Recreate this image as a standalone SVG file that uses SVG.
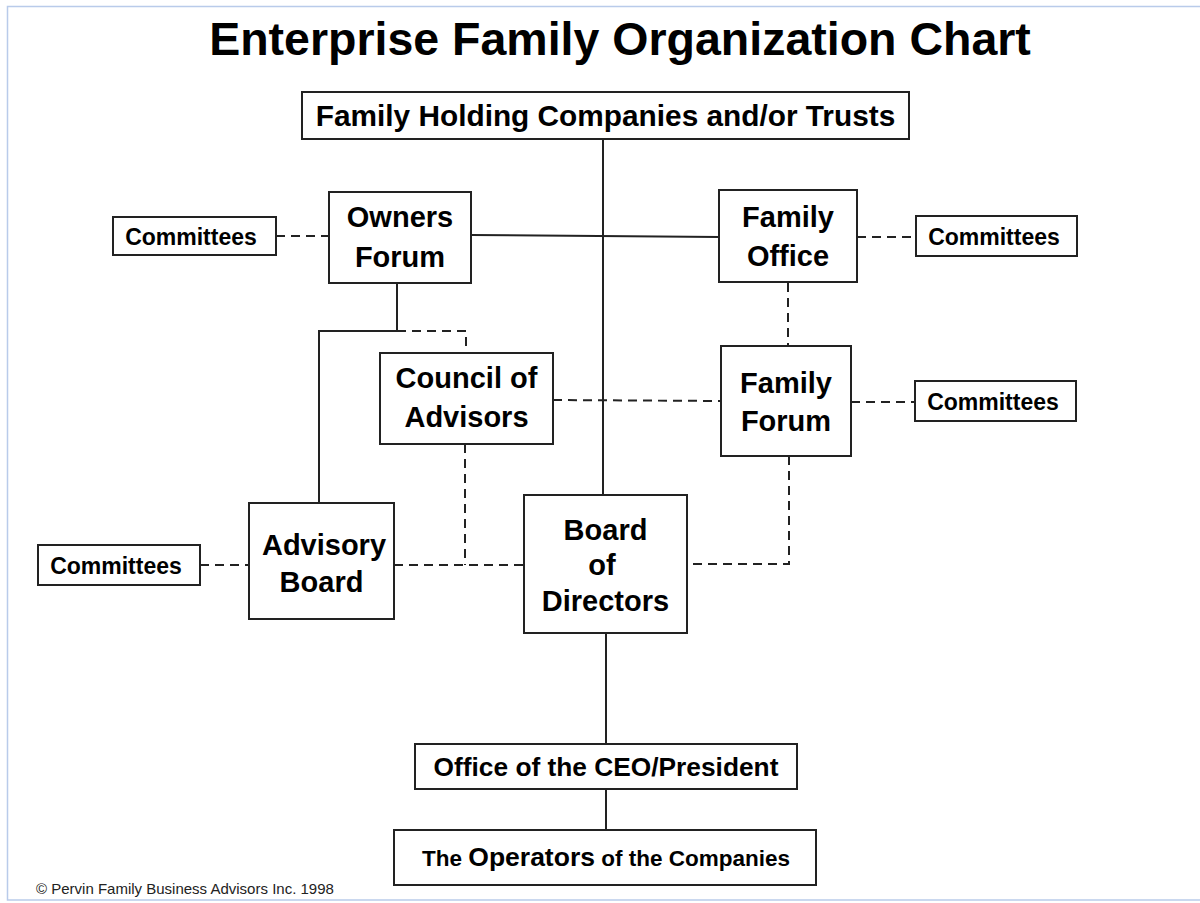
<svg xmlns="http://www.w3.org/2000/svg" width="1200" height="903" viewBox="0 0 1200 903">
<style>
.box{fill:#fff;stroke:#222;stroke-width:2}
.t{font-family:"Liberation Sans",Arial,sans-serif;font-weight:bold;fill:#000;text-anchor:middle}
.big{font-size:29px}
.sm{font-size:23px}
.ln{fill:none;stroke:#222;stroke-width:2}
.dash{fill:none;stroke:#222;stroke-width:2;stroke-dasharray:9 6}
</style>
<rect x="0" y="0" width="1200" height="903" fill="#fff"/>
<rect x="7.5" y="6.5" width="1200" height="893.5" fill="none" stroke="#b9cbea" stroke-width="1.5"/>
<text class="t" x="620" y="55" font-size="46.5">Enterprise Family Organization Chart</text>

<g id="connectors">
  <line class="ln" x1="603" y1="139" x2="603" y2="495"/>
  <line class="ln" x1="471" y1="235" x2="719" y2="237"/>
  <line class="dash" x1="276" y1="236" x2="329" y2="236"/>
  <line class="dash" x1="857" y1="237" x2="916" y2="237"/>
  <line class="dash" x1="788" y1="283" x2="788" y2="346"/>
  <line class="dash" x1="851" y1="402" x2="915" y2="402"/>
  <line class="dash" x1="553" y1="400" x2="721" y2="401"/>
  <polyline class="ln" points="397,283 397,331 319,331 319,503"/>
  <polyline class="dash" points="397,331 466,331 466,353"/>
  <line class="dash" x1="200" y1="565" x2="249" y2="565"/>
  <line class="dash" x1="394" y1="565" x2="524" y2="565"/>
  <line class="dash" x1="465" y1="444" x2="465" y2="565"/>
  <polyline class="dash" points="789,456 789,564 687,564"/>
  <line class="ln" x1="606" y1="633" x2="606" y2="744"/>
  <line class="ln" x1="606" y1="789" x2="606" y2="830"/>
</g>

<g id="holding">
  <rect class="box" x="302" y="92" width="607" height="47"/>
  <text class="t" x="605.5" y="126" font-size="29.8">Family Holding Companies and/or Trusts</text>
</g>
<g id="owners-forum">
  <rect class="box" x="329" y="192" width="142" height="91"/>
  <text class="t big" x="400" y="227">Owners</text>
  <text class="t big" x="400" y="267">Forum</text>
</g>
<g id="committees-owners">
  <rect class="box" x="113" y="217" width="163" height="38"/>
  <text class="t sm" x="191" y="245">Committees</text>
</g>
<g id="family-office">
  <rect class="box" x="719" y="190" width="138" height="92"/>
  <text class="t big" x="788" y="227">Family</text>
  <text class="t big" x="788" y="266">Office</text>
</g>
<g id="committees-office">
  <rect class="box" x="916" y="216" width="161" height="40"/>
  <text class="t sm" x="994" y="245">Committees</text>
</g>
<g id="council">
  <rect class="box" x="380" y="353" width="173" height="91"/>
  <text class="t big" x="466.5" y="388">Council of</text>
  <text class="t big" x="466.5" y="427">Advisors</text>
</g>
<g id="family-forum">
  <rect class="box" x="721" y="346" width="130" height="110"/>
  <text class="t big" x="786" y="393">Family</text>
  <text class="t big" x="786" y="431">Forum</text>
</g>
<g id="committees-forum">
  <rect class="box" x="915" y="381" width="161" height="40"/>
  <text class="t sm" x="993" y="410">Committees</text>
</g>
<g id="advisory-board">
  <rect class="box" x="249" y="503" width="145" height="116"/>
  <text class="t big" x="324" y="555">Advisory</text>
  <text class="t big" x="321.5" y="592">Board</text>
</g>
<g id="committees-advisory">
  <rect class="box" x="38" y="545" width="162" height="40"/>
  <text class="t sm" x="116" y="574">Committees</text>
</g>
<g id="board">
  <rect class="box" x="524" y="495" width="163" height="138"/>
  <text class="t big" x="605.5" y="540">Board</text>
  <text class="t big" x="602" y="575">of</text>
  <text class="t big" x="605.5" y="611">Directors</text>
</g>
<g id="ceo">
  <rect class="box" x="415" y="744" width="382" height="45"/>
  <text class="t" x="606" y="776" font-size="26.3">Office of the CEO/President</text>
</g>
<g id="operators">
  <rect class="box" x="394" y="830" width="422" height="55"/>
  <text class="t" x="606" y="866" font-size="22.5">The <tspan font-size="26.5">Operators</tspan> of the Companies</text>
</g>
<text x="36" y="894" font-family="Liberation Sans, Arial, sans-serif" font-size="15" fill="#222">© Pervin Family Business Advisors Inc. 1998</text>
</svg>
